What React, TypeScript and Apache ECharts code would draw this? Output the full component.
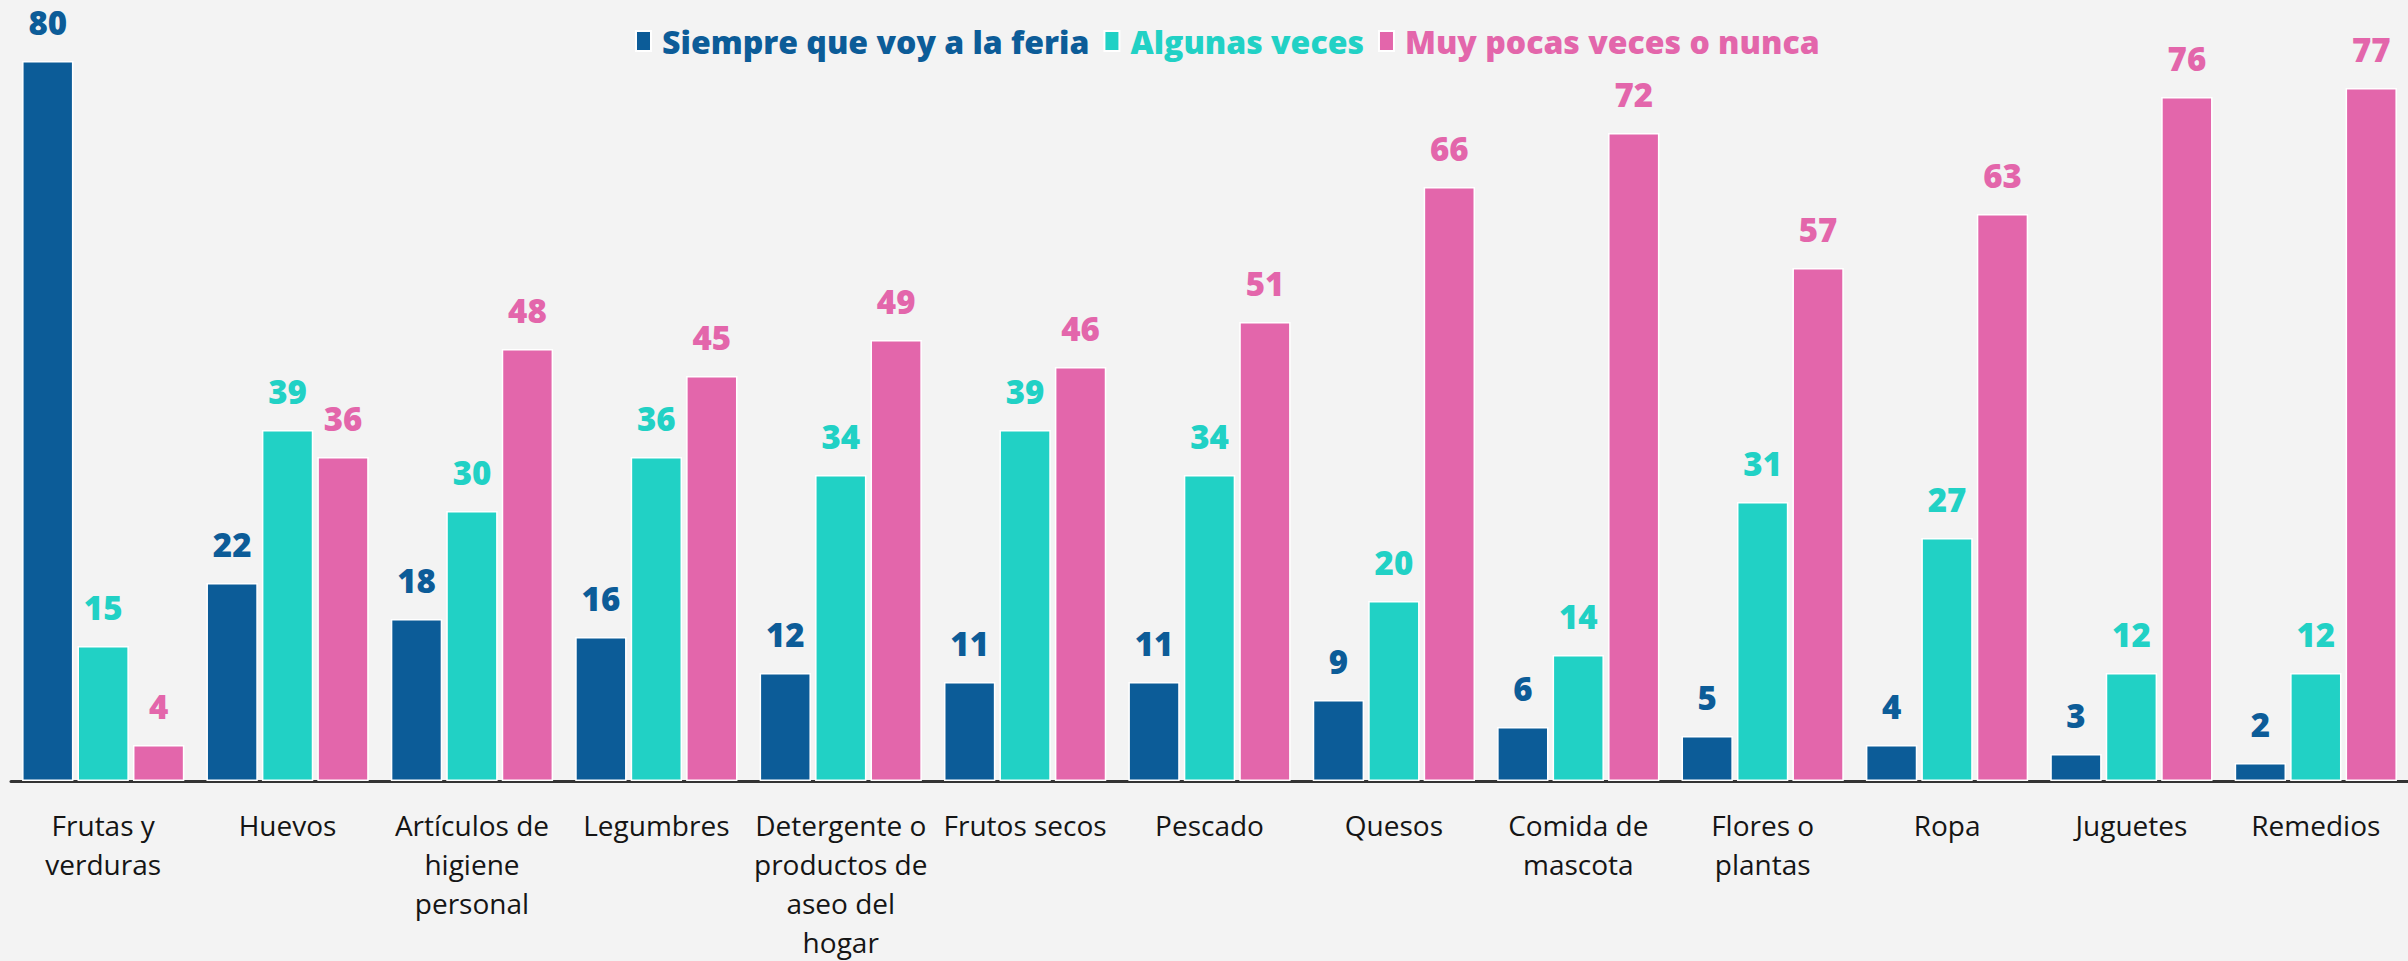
import React, { useEffect, useRef } from "react";
import * as echarts from "echarts";

const categories = [
  "Frutas y verduras",
  "Huevos",
  "Artículos de higiene personal",
  "Legumbres",
  "Detergente o productos de aseo del hogar",
  "Frutos secos",
  "Pescado",
  "Quesos",
  "Comida de mascota",
  "Flores o plantas",
  "Ropa",
  "Juguetes",
  "Remedios",
];
const categoryLines = [
  "Frutas y\nverduras",
  "Huevos",
  "Artículos de\nhigiene\npersonal",
  "Legumbres",
  "Detergente o\nproductos de\naseo del\nhogar",
  "Frutos secos",
  "Pescado",
  "Quesos",
  "Comida de\nmascota",
  "Flores o\nplantas",
  "Ropa",
  "Juguetes",
  "Remedios",
];
const seriesNames = ["Siempre que voy a la feria", "Algunas veces", "Muy pocas veces o nunca"];
const siempre = [80, 22, 18, 16, 12, 11, 11, 9, 6, 5, 4, 3, 2];
const algunas = [15, 39, 30, 36, 34, 39, 34, 20, 14, 31, 27, 12, 12];
const muyPocas = [4, 36, 48, 45, 49, 46, 51, 66, 72, 57, 63, 76, 77];
const colors = ["#0c5c98", "#21d1c5", "#e366ab"];
const legendTextWidths = [424, 259, 447];

export default function App() {
  const ref = useRef<HTMLDivElement>(null);
  useEffect(() => {
    if (!ref.current) return;
    const chart = echarts.init(ref.current, null, { renderer: "svg" });
    const mk = (name: string, data: number[], color: string) => ({
      name,
      type: "bar",
      data,
      barGap: "8%",
      barCategoryGap: "12%",
      itemStyle: { color, borderColor: "#ffffff", borderWidth: 1.5 },
      label: {
        show: true,
        position: "top",
        distance: 22,
        color,
        fontFamily: "'Open Sans', sans-serif",
        fontWeight: 800,
        fontSize: 33,
      },
    });
    chart.setOption({
      animation: false,
      backgroundColor: "#f3f3f3",
      color: colors,
      legend: {
        top: 20,
        left: 630,
        icon: "rect",
        itemWidth: 15,
        itemHeight: 20,
        itemGap: 14,
        data: seriesNames.map((n, i) => ({
          name: n,
          textStyle: { color: colors[i], width: legendTextWidths[i] },
        })),
        textStyle: {
          fontFamily: "'Open Sans', sans-serif",
          fontWeight: 800,
          fontSize: 32,
          padding: [0, 0, 0, 6],
        },
      },
      grid: { left: 11, width: 2406, top: 61, bottom: 961 - 783, containLabel: false },
      xAxis: {
        type: "category",
        data: categories,
        axisLine: { lineStyle: { color: "#333333", width: 3 } },
        axisTick: { length: 12, lineStyle: { color: "#333333", width: 2 } },
        axisLabel: {
          interval: 0,
          margin: 24,
          color: "#151515",
          fontFamily: "'Open Sans', sans-serif",
          fontSize: 28,
          lineHeight: 39,
          formatter: (v: string) => categoryLines[categories.indexOf(v)] ?? v,
        },
      },
      yAxis: {
        type: "value",
        min: 0,
        max: 80,
        show: false,
        splitLine: { show: false },
      },
      series: [
        mk(seriesNames[0], siempre, colors[0]),
        mk(seriesNames[1], algunas, colors[1]),
        mk(seriesNames[2], muyPocas, colors[2]),
      ],
    });
    return () => chart.dispose();
  }, []);
  return (
    <div
      ref={ref}
      style={{ position: "fixed", left: 0, top: 0, width: 2408, height: 961 }}
    />
  );
}
